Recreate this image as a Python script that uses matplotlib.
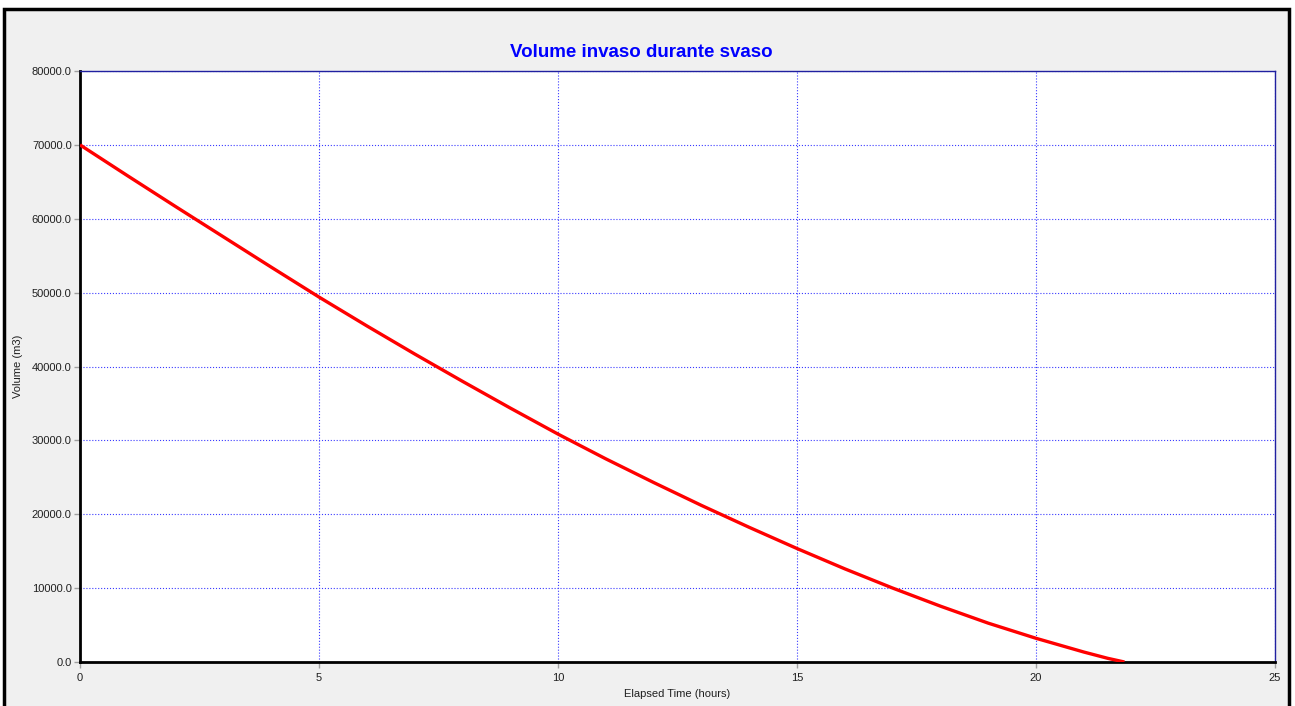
"""
Volume stored in the basin while it drains (svaso), vs elapsed time.
"""
import matplotlib
matplotlib.use('Agg')
import matplotlib.pyplot as plt
from matplotlib.patches import Rectangle
from matplotlib.ticker import FormatStrFormatter

font = {'family': ['Liberation Sans', 'DejaVu Sans'], 'size': 8}
matplotlib.rc('font', **font)

# elapsed time (hours) and stored volume (m3)
hours = [0, 1, 2, 3, 4, 5, 6, 7, 8, 9, 10, 11, 12, 13, 14, 15,
         16, 17, 18, 19, 20, 21, 21.5, 21.85]
volume = [70000, 65800, 61650, 57550, 53450, 49400, 45500, 41700, 38000,
          34380, 30850, 27500, 24300, 21200, 18230, 15360, 12610, 10010,
          7560, 5260, 3210, 1350, 500, 0]

x_ticks = [0, 5, 10, 15, 20, 25]
y_ticks = [0, 10000, 20000, 30000, 40000, 50000, 60000, 70000, 80000]

title = 'Volume invaso durante svaso'
x_label = 'Elapsed Time (hours)'
y_label = 'Volume (m3)'

fig = plt.figure(figsize=(12.95, 7.06), dpi=100, facecolor='white')

# grey panel with a black frame round it
fig.patches.append(Rectangle((0.003, -0.01), 0.9925, 0.997, transform=fig.transFigure,
                             facecolor='#f0f0f0', edgecolor='black', linewidth=2.5,
                             zorder=-1))

ax = fig.add_axes([0.0618, 0.0623, 0.9228, 0.8371])
ax.set_facecolor('white')
ax.plot(hours, volume, color='red', linewidth=2.4, solid_capstyle='butt', zorder=3)

ax.set_xlim(0, 25)
ax.set_ylim(0, 80000)
ax.set_xticks(x_ticks)
ax.set_yticks(y_ticks)
ax.yaxis.set_major_formatter(FormatStrFormatter('%.1f'))
ax.tick_params(direction='out', length=4, width=1, color='#a0a0a0',
               labelcolor='#202020', labelsize=8, pad=2)
ax.tick_params(axis='x', pad=4)

ax.grid(True, color='#3a3aff', linestyle=':', linewidth=0.8)
ax.set_axisbelow(True)

for side in ['left', 'bottom']:
    ax.spines[side].set_color('black')
    ax.spines[side].set_linewidth(2)
for side in ['top', 'right']:
    ax.spines[side].set_color('#2020a0')
    ax.spines[side].set_linewidth(1)

fig.text(0.495, 0.925, title, color='blue', fontweight='bold', fontsize=13.5,
         ha='center', va='center')
ax.set_xlabel(x_label, fontsize=8, color='#202020', labelpad=4)
ax.set_ylabel(y_label, fontsize=8, color='#202020', labelpad=6)

plt.savefig('out.png', dpi=100, facecolor='white')
plt.close()
